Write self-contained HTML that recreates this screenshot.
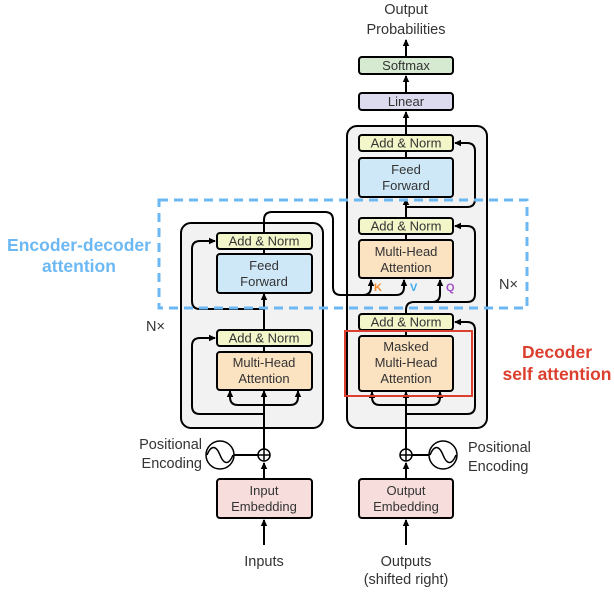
<!DOCTYPE html>
<html><head><style>
html,body{margin:0;padding:0;background:#fff;}
svg{display:block;}
text{font-family:"Liberation Sans",sans-serif;}
</style></head><body>
<svg width="614" height="594" viewBox="0 0 614 594" xmlns="http://www.w3.org/2000/svg">
<defs>
<marker id="a" markerWidth="8" markerHeight="8" refX="6" refY="4" orient="auto" markerUnits="userSpaceOnUse">
<path d="M0,0.8 L7,4 L0,7.2 Z" fill="#000"/>
</marker>
</defs>
<rect x="181" y="223" width="142" height="205" rx="10" fill="#f2f2f2" stroke="#000" stroke-width="2"/>
<rect x="347" y="126" width="140" height="302" rx="10" fill="#f2f2f2" stroke="#000" stroke-width="2"/>

<g stroke="#000" stroke-width="2" fill="none">
<line x1="264" y1="545" x2="264" y2="520" marker-end="url(#a)"/>
<line x1="264" y1="478" x2="264" y2="463" marker-end="url(#a)"/>
<line x1="264" y1="449" x2="264" y2="346"/>
<path d="M264,405 L238,405 Q230,405 230,397 L230,391" marker-end="url(#a)"/>
<path d="M264,405 L290,405 Q298,405 298,397 L298,391" marker-end="url(#a)"/>
<line x1="264" y1="405" x2="264" y2="391" marker-end="url(#a)"/>
<path d="M264,414 L200,414 Q192,414 192,406 L192,346 Q192,338 200,338 L215,338" marker-end="url(#a)"/>
<line x1="264" y1="330" x2="264" y2="294" marker-end="url(#a)"/>
<path d="M264,309 L200,309 Q192,309 192,301 L192,249 Q192,241 200,241 L215,241" marker-end="url(#a)"/>
<line x1="264" y1="254" x2="264" y2="249"/>
<path d="M264,233 L264,220 Q264,212 272,212 L325,212 Q333,212 333,220 L333,287 Q333,295 341,295 L396,295 Q404,295 404,287 L404,280" marker-end="url(#a)"/>
<path d="M363,295 Q371,295 371,287 L371,280" marker-end="url(#a)"/>
<line x1="406" y1="545" x2="406" y2="520" marker-end="url(#a)"/>
<line x1="406" y1="478" x2="406" y2="463" marker-end="url(#a)"/>
<line x1="406" y1="449" x2="406" y2="392"/>
<path d="M406,405 L380,405 Q372,405 372,397 L372,392" marker-end="url(#a)"/>
<path d="M406,405 L432,405 Q440,405 440,397 L440,392" marker-end="url(#a)"/>
<line x1="406" y1="405" x2="406" y2="392" marker-end="url(#a)"/>
<path d="M406,414 L467,414 Q475,414 475,406 L475,330 Q475,322 467,322 L455,322" marker-end="url(#a)"/>
<line x1="406" y1="336" x2="406" y2="330"/>
<path d="M406,314 L406,310 Q406,302 414,302 L432,302 Q440,302 440,294 L440,280" marker-end="url(#a)"/>
<path d="M432,302 L467,302 Q475,302 475,294 L475,234 Q475,226 467,226 L455,226" marker-end="url(#a)"/>
<line x1="406" y1="240" x2="406" y2="234"/>
<line x1="406" y1="218" x2="406" y2="199" marker-end="url(#a)"/>
<path d="M406,207 L467,207 Q475,207 475,199 L475,151 Q475,143 467,143 L455,143" marker-end="url(#a)"/>
<line x1="406" y1="158" x2="406" y2="151"/>
<line x1="406" y1="135" x2="406" y2="112" marker-end="url(#a)"/>
<line x1="406" y1="93" x2="406" y2="76" marker-end="url(#a)"/>
<line x1="406" y1="57" x2="406" y2="40" marker-end="url(#a)"/>
<line x1="234" y1="455" x2="258" y2="455"/>
<line x1="412" y1="455" x2="429" y2="455"/>
</g>

<g stroke="#000" stroke-width="2">
<rect x="217" y="233" width="95" height="16" rx="3" fill="#f3f6c9"/>
<rect x="217" y="254" width="95" height="39" rx="3" fill="#cfe8f7"/>
<rect x="217" y="330" width="95" height="16" rx="3" fill="#f3f6c9"/>
<rect x="217" y="352" width="95" height="38" rx="3" fill="#fbe2c1"/>
<rect x="217" y="479" width="95" height="39" rx="3" fill="#f7dedd"/>
<rect x="359" y="57" width="94" height="17" rx="3" fill="#d6ead2"/>
<rect x="359" y="93" width="94" height="17" rx="3" fill="#dcdcee"/>
<rect x="359" y="135" width="94" height="16" rx="3" fill="#f3f6c9"/>
<rect x="359" y="158" width="94" height="39" rx="3" fill="#cfe8f7"/>
<rect x="359" y="218" width="94" height="16" rx="3" fill="#f3f6c9"/>
<rect x="359" y="240" width="94" height="38" rx="3" fill="#fbe2c1"/>
<rect x="359" y="314" width="94" height="16" rx="3" fill="#f3f6c9"/>
<rect x="359" y="336" width="94" height="55" rx="3" fill="#fbe2c1"/>
<rect x="359" y="479" width="94" height="39" rx="3" fill="#f7dedd"/>
</g>
<rect x="345" y="331" width="127" height="65" fill="none" stroke="#dc3f2e" stroke-width="2"/>
<rect x="159" y="200" width="368" height="108" fill="none" stroke="#6cb8f3" stroke-width="3" stroke-dasharray="9,6"/>

<g stroke="#000" stroke-width="1.5" fill="#fff">
<circle cx="264" cy="455" r="6"/>
<circle cx="406" cy="455" r="6"/>
<circle cx="220" cy="455" r="14"/>
<circle cx="443" cy="455" r="14"/>
</g>
<g stroke="#000" stroke-width="1.5" fill="none">
<line x1="258" y1="455" x2="270" y2="455"/><line x1="264" y1="449" x2="264" y2="461"/>
<line x1="400" y1="455" x2="412" y2="455"/><line x1="406" y1="449" x2="406" y2="461"/>
<path d="M207,455 C211,445 216,445 220,455 C224,465 229,465 233,455"/>
<path d="M430,455 C434,445 439,445 443,455 C447,465 452,465 456,455"/>
</g>

<g font-size="13" fill="#333" text-anchor="middle">
<text x="264" y="245.5">Add &amp; Norm</text>
<text x="264" y="270">Feed</text><text x="264" y="286">Forward</text>
<text x="264" y="342.5">Add &amp; Norm</text>
<text x="264" y="367">Multi-Head</text><text x="264" y="383">Attention</text>
<text x="264" y="495">Input</text><text x="264" y="511">Embedding</text>
<text x="406" y="70">Softmax</text>
<text x="406" y="106">Linear</text>
<text x="406" y="147.5">Add &amp; Norm</text>
<text x="406" y="174">Feed</text><text x="406" y="190">Forward</text>
<text x="406" y="230.5">Add &amp; Norm</text>
<text x="406" y="256">Multi-Head</text><text x="406" y="272">Attention</text>
<text x="406" y="326.5">Add &amp; Norm</text>
<text x="406" y="351">Masked</text><text x="406" y="367">Multi-Head</text><text x="406" y="383">Attention</text>
<text x="406" y="495">Output</text><text x="406" y="511">Embedding</text>
</g>
<g font-size="14.5" fill="#333">
<text x="406" y="14" text-anchor="middle">Output</text>
<text x="406" y="34" text-anchor="middle">Probabilities</text>
<text x="264" y="566" text-anchor="middle">Inputs</text>
<text x="406" y="566" text-anchor="middle">Outputs</text>
<text x="406" y="584" text-anchor="middle">(shifted right)</text>
<text x="202" y="449" text-anchor="end">Positional</text>
<text x="202" y="468" text-anchor="end">Encoding</text>
<text x="468" y="452">Positional</text>
<text x="468" y="471">Encoding</text>
<text x="146" y="331">N×</text>
<text x="499" y="289">N×</text>
</g>
<g font-size="11" font-weight="bold">
<text x="374" y="291" fill="#f5892a">K</text>
<text x="410" y="291" fill="#3aa8f0">V</text>
<text x="446" y="291" fill="#a14fc9">Q</text>
</g>
<g font-size="17.5" font-weight="bold" text-anchor="middle">
<text x="79" y="251" fill="#6cb8f3">Encoder-decoder</text>
<text x="79" y="272" fill="#6cb8f3">attention</text>
<text x="557" y="358" fill="#dc3f2e">Decoder</text>
<text x="557" y="380" fill="#dc3f2e">self attention</text>
</g>
</svg>
</body></html>
